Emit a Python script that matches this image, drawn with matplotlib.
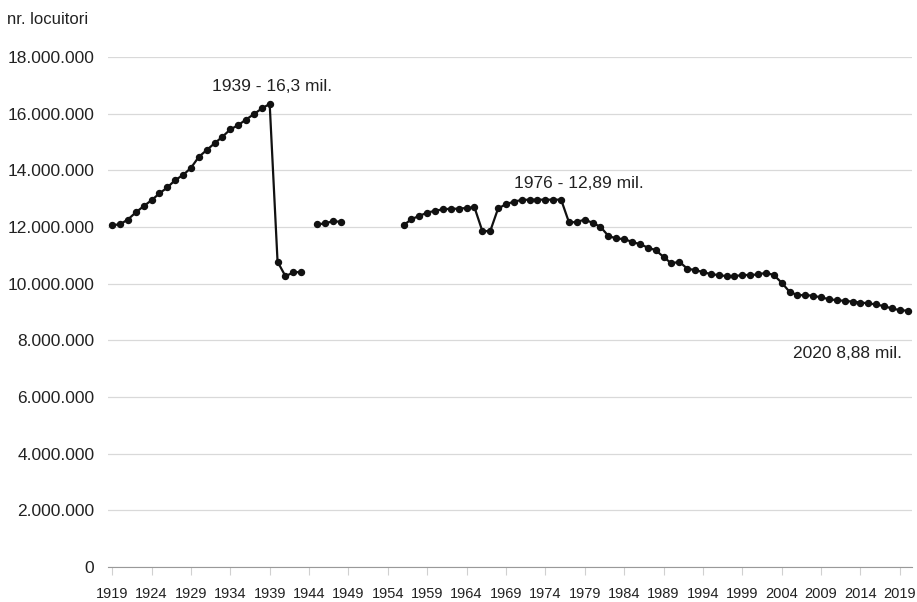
import numpy as np
import matplotlib.pyplot as plt
from matplotlib.ticker import FuncFormatter

plt.rcParams["font.family"] = ["Liberation Sans", "DejaVu Sans"]

years = list(range(1919, 2021))

# population in millions, nan = no data
pop_1919_1943 = [12.07, 12.10, 12.27, 12.52, 12.74, 12.95, 13.19, 13.40, 13.66, 13.84,
                 14.09, 14.48, 14.72, 14.96, 15.19, 15.45, 15.60, 15.80, 15.99, 16.19,
                 16.35, 10.78, 10.27, 10.40, 10.42]
pop_1944 = [np.nan]
pop_1945_1948 = [12.10, 12.13, 12.21, 12.19]
pop_1949_1955 = [np.nan] * 7
pop_1956_1976 = [12.07, 12.28, 12.40, 12.51, 12.58, 12.63, 12.65, 12.65, 12.68, 12.70,
                 11.86, 11.86, 12.66, 12.81, 12.90, 12.96, 12.97, 12.97, 12.97, 12.97,
                 12.97]
pop_1977_2020 = [12.17, 12.18, 12.27, 12.15, 12.01, 11.69, 11.60, 11.58, 11.48, 11.40,
                 11.28, 11.19, 10.95, 10.72, 10.78, 10.54, 10.48, 10.42, 10.34, 10.31,
                 10.27, 10.27, 10.31, 10.31, 10.33, 10.39, 10.31, 10.04, 9.72, 9.60,
                 9.60, 9.58, 9.52, 9.46, 9.42, 9.40, 9.37, 9.34, 9.31, 9.27,
                 9.21, 9.13, 9.07, 9.05]

population = np.array(pop_1919_1943 + pop_1944 + pop_1945_1948 + pop_1949_1955
                      + pop_1956_1976 + pop_1977_2020) * 1e6

tick_years = list(range(1919, 2020, 5))

notes = [
    (1939.3, 16.95e6, "1939 - 16,3 mil."),
    (1978.3, 13.55e6, "1976 - 12,89 mil."),
    (2012.3, 7.55e6, "2020 8,88 mil."),
]

fig = plt.figure(figsize=(9.17, 6.02), dpi=100)
ax = fig.add_axes([0.118, 0.058, 0.877, 0.847])

ax.plot(years, population, color="#111111", linewidth=1.6, marker="o",
        markersize=4.3, zorder=3)

ax.set_xlim(1918.5, 2020.6)
ax.set_ylim(0, 18e6)
ax.set_yticks(np.arange(0, 18e6 + 1, 2e6))
ax.yaxis.set_major_formatter(FuncFormatter(lambda v, p: f"{int(v):,}".replace(",", ".")))
ax.set_xticks(tick_years)
ax.set_xticklabels([str(y) for y in tick_years],
                   family=["Liberation Sans Narrow", "Liberation Sans"], fontsize=10.5)

ax.grid(axis="y", color="#d9d9d9", linewidth=0.9)
ax.set_axisbelow(True)
for side in ["top", "right", "left"]:
    ax.spines[side].set_visible(False)
ax.spines["bottom"].set_color("#999999")
ax.tick_params(axis="y", length=0, labelsize=12.5, pad=10, labelcolor="#222222")
ax.tick_params(axis="x", length=6, color="#d0d0d0", labelcolor="#222222", pad=8)

for x, y, txt in notes:
    ax.text(x, y, txt, ha="center", va="center", fontsize=12.5, color="#222222")

fig.text(0.008, 0.967, "nr. locuitori", fontsize=12, color="#222222", va="center")

fig.savefig("out.png", dpi=100)
